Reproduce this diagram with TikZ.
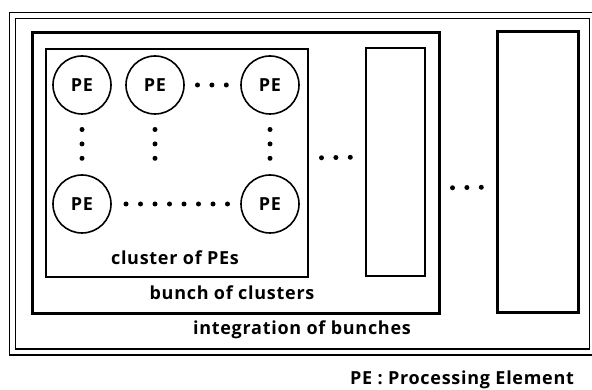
\documentclass[tikz,border=0pt]{standalone}
\usepackage{fontspec}
\setmainfont{Open Sans}[LetterSpace=4]
\usetikzlibrary{positioning}
\tikzset{
    pe/.style={
        circle,
        draw=black,
        line width=1.6pt,
        minimum size=58pt,
        inner sep=0pt,
        outer sep=0pt,
        font=\bfseries\fontsize{18}{18}\selectfont,
    },
    cluster/.style={
        rectangle,
        draw=black,
        line width=1.8pt,
        inner sep=0pt,
        outer sep=0pt,
    },
    bunch/.style={
        rectangle,
        draw=black,
        line width=3pt,
        inner sep=0pt,
        outer sep=0pt,
    },
    integ/.style={
        rectangle,
        draw=black,
        double,
        double distance=4.5pt,
        line width=1.6pt,
        inner sep=0pt,
        outer sep=0pt,
    },
    dotline/.style={
        draw,
        line width=5pt,
        line cap=round,
        dash pattern=on 0pt off 14.4pt,
        shorten <=13.5pt,
        shorten >=13.5pt,
    },
    lbl/.style={
        inner sep=0pt,
        font=\bfseries\fontsize{18}{18}\selectfont,
    },
    node distance=15pt,
}

\begin{document}
\begin{tikzpicture}[x=1pt,y=-1pt]
                \useasboundingbox (0,0) rectangle (592,390);

                % frames
                \node [integ, minimum width=580pt, minimum height=336.5pt] (I1) at (302.5,183.75) {};
                \node [bunch, minimum width=407pt, minimum height=280pt] (B1) at (235.5,173) {};
                \node [bunch, minimum width=81pt, minimum height=280pt] (B2) at (537.5,172) {};
                \node [cluster, minimum width=262pt, minimum height=228pt] (C1) at (177,163) {};
                \node [cluster, minimum width=59pt, minimum height=228pt] (C2) at (395.5,162) {};

                % processing elements
                \node [pe] (PE1) at (82,85) {PE};
                \node [pe, right=of PE1] (PE2) {PE};
                \node [pe, right=57pt of PE2] (PE3) {PE};
                \node [pe, below=61pt of PE1] (PE4) {PE};
                \node [pe, below=61pt of PE3] (PE5) {PE};

                \draw [dotline] (PE2) -- (PE3);
                \draw [dotline, shorten <=15.5pt, shorten >=15.5pt] (PE1) -- (PE4);
                \draw [dotline, shorten <=15.5pt, shorten >=15.5pt] (PE2) -- (PE2 |- PE4.north);
                \draw [dotline, shorten <=15.5pt, shorten >=15.5pt] (PE3) -- (PE5);
                \draw [dotline, dash pattern=on 0pt off 14.5pt, shorten <=15pt, shorten >=12.5pt] (PE4) -- (PE5);

                \draw [dotline] ([yshift=5pt]C1.east) -- ([yshift=5pt]C2.west);
                \draw [dotline] ([yshift=-15pt]B1.east) -- ([yshift=-15pt]B2.west);

                % labels
                \node [lbl] (LC) at (175,258) {cluster of PEs};
                \node [lbl] (LB) at (232,293) {bunch of clusters};
                \node [lbl] (LI) at (302,330) {integration of bunches};
                \node [lbl] (LPE) at (462,380) {PE : Processing Element};
            \end{tikzpicture}
\end{document}
